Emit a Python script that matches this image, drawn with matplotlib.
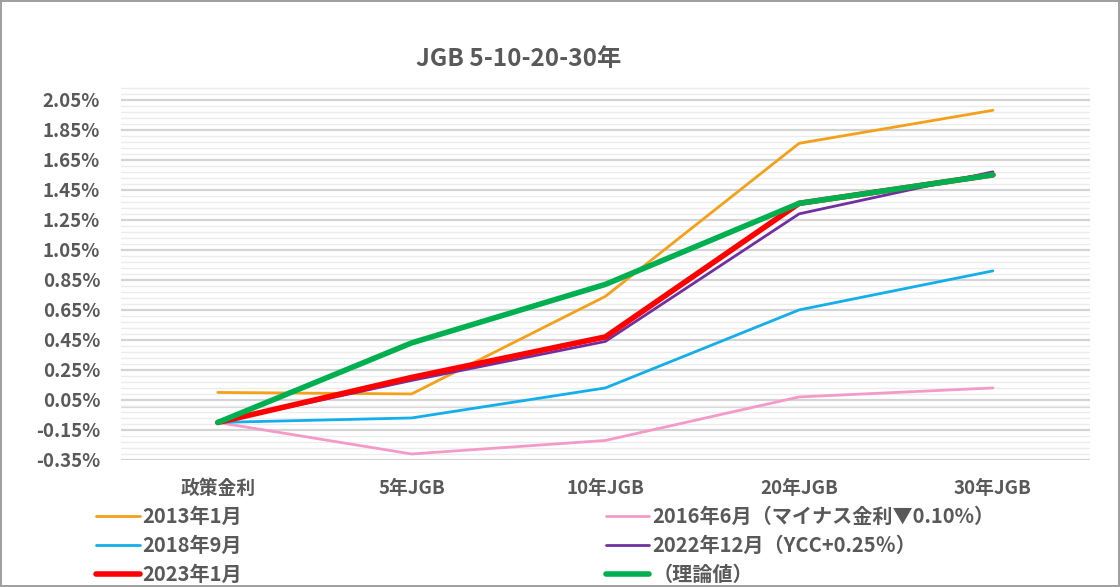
import matplotlib.pyplot as plt
from matplotlib.ticker import FixedLocator
import numpy as np

plt.rcParams['font.family'] = ['Noto Sans CJK JP', 'DejaVu Sans']

# categories on the x axis
categories = ['政策金利', '5年JGB', '10年JGB', '20年JGB', '30年JGB']

# yields in %
jan2013 = [0.10, 0.09, 0.74, 1.76, 1.98]
jun2016 = [-0.10, -0.31, -0.22, 0.07, 0.13]
sep2018 = [-0.10, -0.07, 0.13, 0.65, 0.91]
dec2022 = [-0.10, 0.18, 0.44, 1.29, 1.57]
jan2023 = [-0.10, 0.20, 0.47, 1.36, 1.55]
theory = [-0.10, 0.43, 0.82, 1.36, 1.55]

labels = ['2013年1月', '2016年6月（マイナス金利▼0.10%）', '2018年9月',
          '2022年12月（YCC+0.25％）', '2023年1月', '（理論値）']

gray = '#595959'

fig = plt.figure(figsize=(11.2, 5.87), dpi=100)
fig.patch.set_edgecolor('#a0a0a0')
fig.patch.set_linewidth(1.5)
ax = fig.add_axes([0.108, 0.2164, 0.865, 0.6366])

x = np.arange(len(categories))
series = [jan2013, jun2016, sep2018, dec2022, jan2023, theory]
colors = ['#F5A01A', '#F49AC8', '#14AEEA', '#7030A0', '#FF0000', '#00B050']
widths = [2.0, 2.0, 2.0, 2.0, 4.0, 4.0]
handles = []
for vals, c, w, lab in zip(series, colors, widths, labels):
    h, = ax.plot(x, vals, color=c, lw=w, label=lab, solid_capstyle='round',
                 solid_joinstyle='round', zorder=3)
    handles.append(h)

ax.set_xlim(-0.5, 4.5)
ax.set_ylim(-0.35, 2.14)
ax.yaxis.set_major_locator(FixedLocator(np.arange(-0.35, 2.06, 0.2)))
ax.yaxis.set_minor_locator(FixedLocator(np.arange(-0.35, 2.14, 0.04)))
ax.grid(which='major', axis='y', color='#d4d4d4', lw=1.6, zorder=1)
ax.grid(which='minor', axis='y', color='#ececec', lw=1.0, zorder=0)
ax.axhline(0, color='#d4d4d4', lw=1.6, zorder=1)
ax.set_yticklabels(['%.2f%%' % v for v in np.arange(-0.35, 2.06, 0.2)])
ax.set_xticks(x)
ax.set_xticklabels(categories)
for s in ax.spines.values():
    s.set_visible(False)
ax.tick_params(axis='both', which='both', length=0, labelsize=13.5, labelcolor=gray)
ax.tick_params(axis='x', pad=14)
ax.tick_params(axis='y', pad=15)
for t in ax.get_xticklabels() + ax.get_yticklabels():
    t.set_fontweight('bold')

fig.text(0.463, 0.900, 'JGB 5-10-20-30年', ha='center', va='center',
         fontsize=17.5, fontweight='bold', color=gray)

leg_kw = dict(frameon=False, handlelength=2.15, handletextpad=0.15,
              labelspacing=0.40, borderpad=0, borderaxespad=0,
              prop={'size': 14.5, 'weight': 'bold'}, labelcolor=gray)
fig.legend([handles[0], handles[2], handles[4]], [labels[0], labels[2], labels[4]],
           loc='upper left', bbox_to_anchor=(0.086, 0.138), **leg_kw)
fig.legend([handles[1], handles[3], handles[5]], [labels[1], labels[3], labels[5]],
           loc='upper left', bbox_to_anchor=(0.541, 0.138), **leg_kw)

fig.savefig('out.png', dpi=100)
